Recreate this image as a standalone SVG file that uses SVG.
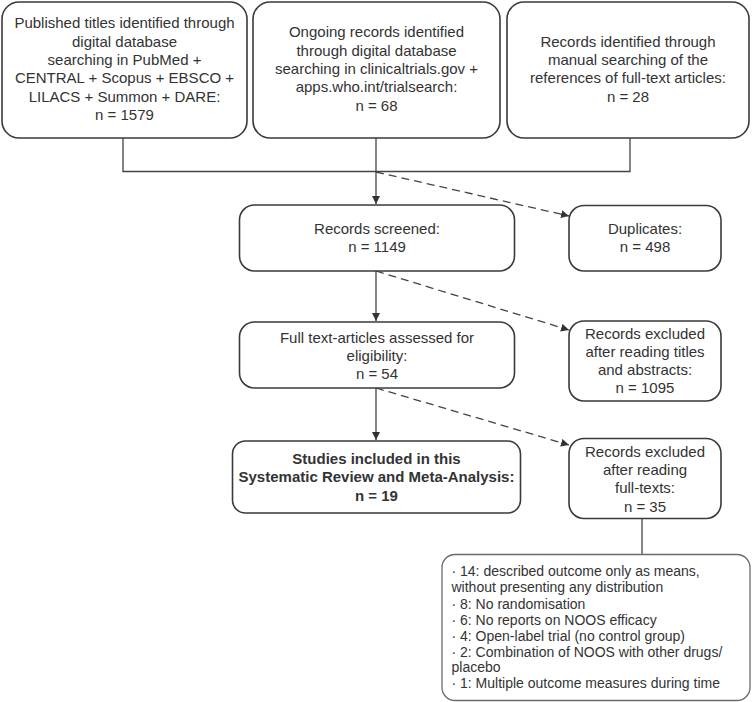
<svg xmlns="http://www.w3.org/2000/svg" width="752" height="702" viewBox="0 0 752 702">
<style>
.box{fill:#fff;stroke:#3a3a3a;stroke-width:1.6}
.lt{fill:#fff;stroke:#6a6a6a;stroke-width:1.3}
.t{font-family:"Liberation Sans",Arial,sans-serif;font-size:15px;fill:#333;text-anchor:middle}
.b{font-weight:bold}
.s{font-family:"Liberation Sans",Arial,sans-serif;font-size:14px;fill:#333}
.ln{fill:none;stroke:#444;stroke-width:1.3}
.d{stroke-dasharray:8 5}
</style>
<defs>
<marker id="ah" viewBox="0 0 10 10" refX="10" refY="5" markerWidth="8" markerHeight="8" markerUnits="userSpaceOnUse" orient="auto">
<path d="M0,0 L10,5 L0,10 z" fill="#333"/>
</marker>
</defs>
<rect width="752" height="702" fill="#fff"/>
<g id="connectors">
<path class="ln" d="M123,138 V171.5 H630 V138"/>
<path class="ln" d="M376,138 V204" marker-end="url(#ah)"/>
<path class="ln d" d="M376,172 L569,216" marker-end="url(#ah)"/>
<path class="ln" d="M376,271 V321" marker-end="url(#ah)"/>
<path class="ln d" d="M376,271 L569,330" marker-end="url(#ah)"/>
<path class="ln" d="M376,388 V440" marker-end="url(#ah)"/>
<path class="ln d" d="M376,388 L569,445" marker-end="url(#ah)"/>
<path class="ln" d="M642,518 V554"/>
</g>
<g id="n1">
<rect class="box" x="2" y="2" width="245" height="136" rx="17"/>
<text class="t" x="124.5" y="28.3">Published titles identified through</text>
<text class="t" x="124.5" y="46.6">digital database</text>
<text class="t" x="124.5" y="64.9">searching in PubMed +</text>
<text class="t" x="124.5" y="83.2">CENTRAL + Scopus + EBSCO +</text>
<text class="t" x="124.5" y="101.5">LILACS + Summon + DARE:</text>
<text class="t" x="124.5" y="119.8">n = 1579</text>
</g>
<g id="n2">
<rect class="box" x="253" y="2" width="247" height="136" rx="17"/>
<text class="t" x="376.5" y="37.3">Ongoing records identified</text>
<text class="t" x="376.5" y="55.6">through digital database</text>
<text class="t" x="376.5" y="73.9">searching in clinicaltrials.gov +</text>
<text class="t" x="376.5" y="92.2">apps.who.int/trialsearch:</text>
<text class="t" x="376.5" y="110.5">n = 68</text>
</g>
<g id="n3">
<rect class="box" x="507" y="2" width="242" height="136" rx="17"/>
<text class="t" x="628" y="46.6">Records identified through</text>
<text class="t" x="628" y="64.9">manual searching of the</text>
<text class="t" x="628" y="83.2">references of full-text articles:</text>
<text class="t" x="628" y="101.5">n = 28</text>
</g>
<g id="n4">
<rect class="box" x="239.5" y="205" width="275" height="66" rx="15"/>
<text class="t" x="377" y="234.3">Records screened:</text>
<text class="t" x="377" y="252">n = 1149</text>
</g>
<g id="n5">
<rect class="box" x="569" y="205.5" width="152" height="65.5" rx="15"/>
<text class="t" x="645" y="234.3">Duplicates:</text>
<text class="t" x="645" y="252">n = 498</text>
</g>
<g id="n6">
<rect class="box" x="239.5" y="322" width="275" height="66" rx="15"/>
<text class="t" x="377" y="343.3">Full text-articles assessed for</text>
<text class="t" x="377" y="361">eligibility:</text>
<text class="t" x="377" y="379">n = 54</text>
</g>
<g id="n7">
<rect class="box" x="569" y="321" width="152" height="80" rx="15"/>
<text class="t" x="645" y="338.5">Records excluded</text>
<text class="t" x="645" y="356.5">after reading titles</text>
<text class="t" x="645" y="374.5">and abstracts:</text>
<text class="t" x="645" y="392.5">n = 1095</text>
</g>
<g id="n8">
<rect class="box" x="232.5" y="441" width="288" height="72" rx="13"/>
<text class="t b" x="376.5" y="464.3">Studies included in this</text>
<text class="t b" x="376.5" y="482.3">Systematic Review and Meta-Analysis:</text>
<text class="t b" x="376.5" y="500.5">n = 19</text>
</g>
<g id="n9">
<rect class="box" x="569" y="438.5" width="152" height="80" rx="15"/>
<text class="t" x="645" y="456.7">Records excluded</text>
<text class="t" x="645" y="475">after reading</text>
<text class="t" x="645" y="493.3">full-texts:</text>
<text class="t" x="645" y="511.5">n = 35</text>
</g>
<g id="n10">
<rect class="lt" x="442" y="554.5" width="308" height="146" rx="13"/>
<text class="s" x="451.5" y="575.7">· 14: described outcome only as means,</text>
<text class="s" x="451.5" y="591.7">without presenting any distribution</text>
<text class="s" x="451.5" y="608.7">· 8: No randomisation</text>
<text class="s" x="451.5" y="624.8">· 6: No reports on NOOS efficacy</text>
<text class="s" x="451.5" y="640.8">· 4: Open-label trial (no control group)</text>
<text class="s" x="451.5" y="656.7">· 2: Combination of NOOS with other drugs/</text>
<text class="s" x="451.5" y="672.3">placebo</text>
<text class="s" x="451.5" y="688.3">· 1: Multiple outcome measures during time</text>
</g>
</svg>
